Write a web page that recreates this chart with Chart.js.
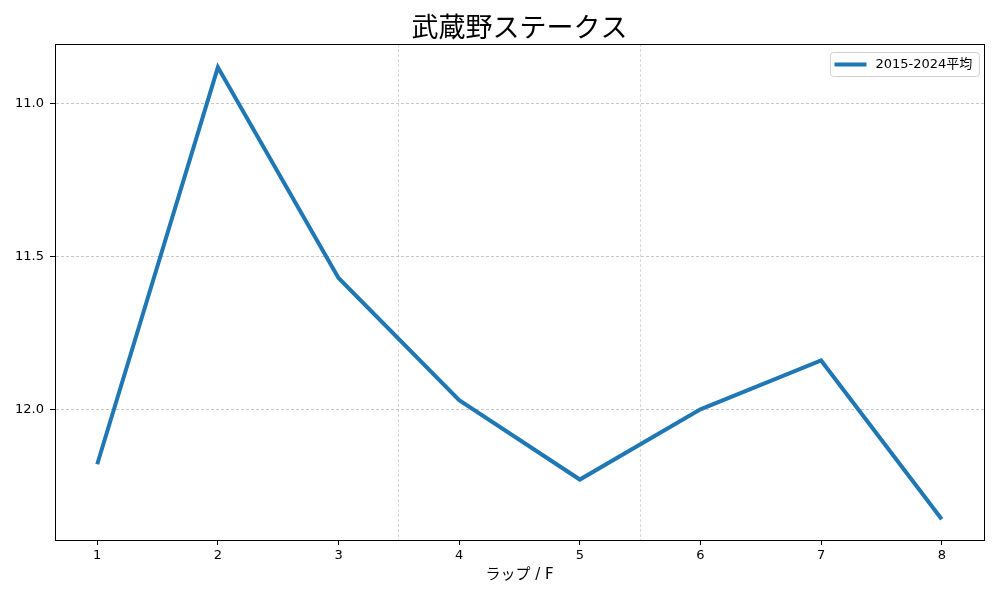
<!DOCTYPE html>
<html>
<head>
<meta charset="utf-8">
<script src="https://cdn.jsdelivr.net/npm/chart.js@4"></script>
<style>
  html, body { margin: 0; padding: 0; background: #fff; }
  #wrap { width: 1000px; height: 600px; }
</style>
</head>
<body>
<div id="wrap"><canvas id="c" width="1000" height="600"></canvas></div>
<script>
const titleText = "武蔵野ステークス";
const xLabel = "ラップ / F";
const seriesName = "2015-2024平均";
const laps = [1, 2, 3, 4, 5, 6, 7, 8];
const lapTimes = [12.18, 10.88, 11.57, 11.97, 12.23, 12.00, 11.84, 12.36];
const yTicks = [11.0, 11.5, 12.0];
const xGridLines = [3.5, 5.5];

const FONT = "'DejaVu Sans', 'Noto Sans CJK JP', sans-serif";
const CJK = "'Noto Sans CJK JP', sans-serif";
const LINE_COLOR = '#1f77b4';

const framePlugin = {
  id: 'frame',
  afterDraw(chart) {
    const { ctx, chartArea: a } = chart;
    ctx.save();
    ctx.strokeStyle = '#000';
    ctx.lineWidth = 1;
    ctx.setLineDash([]);
    ctx.strokeRect(Math.round(a.left) + 0.5, Math.round(a.top) + 0.5,
                   Math.round(a.right - a.left), Math.round(a.bottom - a.top));
    ctx.restore();
  }
};

const legendPlugin = {
  id: 'customLegend',
  afterDraw(chart) {
    const { ctx, chartArea: a } = chart;
    const ds = chart.data.datasets[0];
    ctx.save();
    ctx.font = "13px " + FONT;
    const tw = ctx.measureText(ds.label).width;
    const w = 6 + 30 + 10 + tw + 6;
    const h = 24;
    const x = Math.round(a.right - 5 - w) + 0.5;
    const y = Math.round(a.top + 8) + 0.5;
    const r = 3;
    ctx.fillStyle = 'rgba(255,255,255,0.8)';
    ctx.strokeStyle = '#d0d0d0';
    ctx.lineWidth = 1;
    ctx.beginPath();
    ctx.moveTo(x + r, y);
    ctx.lineTo(x + w - r, y);
    ctx.quadraticCurveTo(x + w, y, x + w, y + r);
    ctx.lineTo(x + w, y + h - r);
    ctx.quadraticCurveTo(x + w, y + h, x + w - r, y + h);
    ctx.lineTo(x + r, y + h);
    ctx.quadraticCurveTo(x, y + h, x, y + h - r);
    ctx.lineTo(x, y + r);
    ctx.quadraticCurveTo(x, y, x + r, y);
    ctx.closePath();
    ctx.fill();
    ctx.stroke();
    const cy = y + h / 2;
    ctx.strokeStyle = ds.borderColor;
    ctx.lineWidth = ds.borderWidth;
    ctx.beginPath();
    ctx.moveTo(x + 4, cy);
    ctx.lineTo(x + 36, cy);
    ctx.stroke();
    ctx.fillStyle = '#000';
    ctx.textBaseline = 'middle';
    ctx.textAlign = 'left';
    ctx.fillText(ds.label, x + 45, cy + 0.5);
    ctx.restore();
  }
};

new Chart(document.getElementById('c'), {
  type: 'line',
  data: {
    datasets: [{
      label: seriesName,
      data: laps.map((x, i) => ({ x: x, y: lapTimes[i] })),
      borderColor: LINE_COLOR,
      backgroundColor: LINE_COLOR,
      borderWidth: 4,
      pointRadius: 0,
      tension: 0,
      borderJoinStyle: 'miter',
      borderCapStyle: 'butt'
    }]
  },
  options: {
    responsive: false,
    animation: false,
    devicePixelRatio: 1,
    layout: { padding: { left: 0, right: 16, top: 0, bottom: 16 } },
    plugins: {
      title: {
        display: true,
        fullSize: false,
        text: titleText,
        color: '#000',
        font: { family: CJK, size: 27, weight: 'normal' },
        padding: { top: 11, bottom: 1 }
      },
      legend: { display: false },
      tooltip: { enabled: false }
    },
    scales: {
      x: {
        type: 'linear',
        min: 0.65,
        max: 8.35,
        afterBuildTicks(s) { s.ticks = laps.map(v => ({ value: v })); },
        afterFit(s) { s.height = 44; },
        grid: { display: true, drawOnChartArea: false, drawTicks: true, tickLength: 5, tickColor: '#000', lineWidth: 1 },
        border: { display: true, color: '#000', width: 1 },
        ticks: { color: '#000', font: { family: FONT, size: 13 }, padding: 3, maxRotation: 0 },
        title: { display: true, text: xLabel, color: '#000', font: { family: FONT, size: 15 }, padding: { top: 0, bottom: 0 } }
      },
      xg: {
        type: 'linear',
        position: 'top',
        min: 0.65,
        max: 8.35,
        afterBuildTicks(s) { s.ticks = xGridLines.map(v => ({ value: v })); },
        afterFit(s) { s.height = 0; },
        grid: { display: true, drawTicks: false, color: '#cfcfcf', lineWidth: 0.8 },
        border: { display: false, dash: [3, 2] },
        ticks: { display: false }
      },
      y: {
        type: 'linear',
        reverse: true,
        min: 10.805,
        max: 12.428,
        afterBuildTicks(s) { s.ticks = yTicks.map(v => ({ value: v })); },
        afterFit(s) { s.width = 55; },
        grid: { display: true, color: '#b8b8b8', lineWidth: 0.8, drawTicks: true, tickLength: 5, tickColor: '#000', tickBorderDash: [], tickWidth: 1 },
        border: { display: true, color: '#000', width: 1, dash: [3, 2] },
        ticks: { color: '#000', font: { family: FONT, size: 13 }, padding: 6, callback: v => v.toFixed(1) }
      }
    }
  },
  plugins: [framePlugin, legendPlugin]
});
</script>
</body>
</html>
